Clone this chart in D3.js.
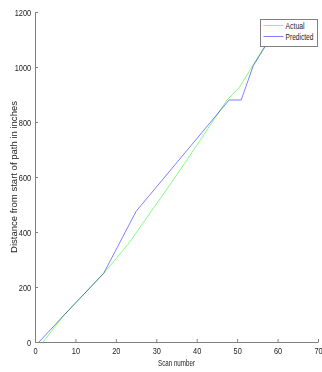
<!DOCTYPE html>
<html>
<head>
<meta charset="utf-8">
<script src="https://cdn.jsdelivr.net/npm/d3@7"></script>
<style>
  body { margin: 0; background: #fff; }
  svg { display: block; font-family: "Liberation Sans", Arial, sans-serif; }
  .axis path, .axis line { stroke: #808080; }
  .axis text { fill: #222; font-size: 9.5px; }
  .series { mix-blend-mode: multiply; }
</style>
</head>
<body>
<div id="chart"></div>
<script>
// scan number / distance pairs
var actualScan = [2, 7, 17, 23, 34, 40, 47.5, 50.5, 57, 60];
var actualDist = [0, 95, 250, 355, 585, 715, 880, 925, 1080, 1150];
var predScan = [1, 7, 17, 25, 48, 51, 54, 58, 60];
var predDist = [0, 95, 250, 475, 880, 880, 1005, 1100, 1150];

var xTicks = [0, 10, 20, 30, 40, 50, 60, 70];
var yTicks = [0, 200, 400, 600, 800, 1000, 1200];
var seriesNames = ["Actual", "Predicted"];
var seriesColors = ["#80ff80", "#8080ff"];
var legendWidths = [19, 28];

var W = 322, H = 372,
    margin = {top: 12, right: 4, bottom: 30, left: 35},
    width = W - margin.left - margin.right,
    height = H - margin.top - margin.bottom;

var x = d3.scaleLinear().domain([0, 70]).range([0, width]);
var y = d3.scaleLinear().domain([0, 1200]).range([height, 0]);

var svg = d3.select("#chart").append("svg")
    .attr("width", W).attr("height", H);

var g = svg.append("g")
    .attr("transform", "translate(" + margin.left + "," + margin.top + ")");

// MATLAB style: inward ticks, narrow labels
g.append("g")
    .attr("class", "axis")
    .attr("transform", "translate(0," + height + ")")
    .call(d3.axisBottom(x).tickValues(xTicks).tickFormat(d3.format("d"))
      .tickSizeInner(-3).tickSizeOuter(0).tickPadding(5))
  .selectAll("text")
    .attr("transform", "scale(0.78,1)");

g.append("g")
    .attr("class", "axis")
    .call(d3.axisLeft(y).tickValues(yTicks).tickFormat(d3.format("d"))
      .tickSizeInner(-3).tickSizeOuter(0).tickPadding(5))
  .selectAll("text")
    .attr("transform", "scale(0.78,1)");

var series = [
  actualScan.map(function(d, i){ return [d, actualDist[i]]; }),
  predScan.map(function(d, i){ return [d, predDist[i]]; })
];

var line = d3.line()
    .x(function(d){ return x(d[0]); })
    .y(function(d){ return y(d[1]); });

g.selectAll(".series")
  .data(series)
  .enter()
  .append("path")
    .attr("class", "series")
    .attr("fill", "none")
    .attr("stroke", function(d, i){ return seriesColors[i]; })
    .attr("stroke-width", 1)
    .attr("d", line);

// axis titles
svg.append("text")
    .attr("x", margin.left + width / 2)
    .attr("y", 366)
    .attr("text-anchor", "middle")
    .attr("font-size", "9.5px")
    .attr("textLength", 37)
    .attr("lengthAdjust", "spacingAndGlyphs")
    .attr("fill", "#222")
    .text("Scan number");

svg.append("text")
    .attr("transform", "translate(17," + (margin.top + height / 2) + ") rotate(-90)")
    .attr("text-anchor", "middle")
    .attr("font-size", "9.5px")
    .attr("textLength", 152)
    .attr("lengthAdjust", "spacingAndGlyphs")
    .attr("fill", "#222")
    .text("Distance from start of path in inches");

// legend
var leg = svg.append("g").attr("transform", "translate(260.5,19.5)");
leg.append("rect")
    .attr("width", 57).attr("height", 27)
    .attr("fill", "#fff").attr("stroke", "#808080");
seriesNames.forEach(function(name, i){
  var ly = 6 + i * 11;
  leg.append("line")
    .attr("x1", 3).attr("x2", 23)
    .attr("y1", ly).attr("y2", ly)
    .attr("stroke", seriesColors[i]);
  leg.append("text")
    .attr("x", 25).attr("y", ly + 3.5)
    .attr("font-size", "9.5px")
    .attr("textLength", legendWidths[i])
    .attr("lengthAdjust", "spacingAndGlyphs")
    .attr("fill", "#222")
    .text(name);
});
</script>
</body>
</html>
